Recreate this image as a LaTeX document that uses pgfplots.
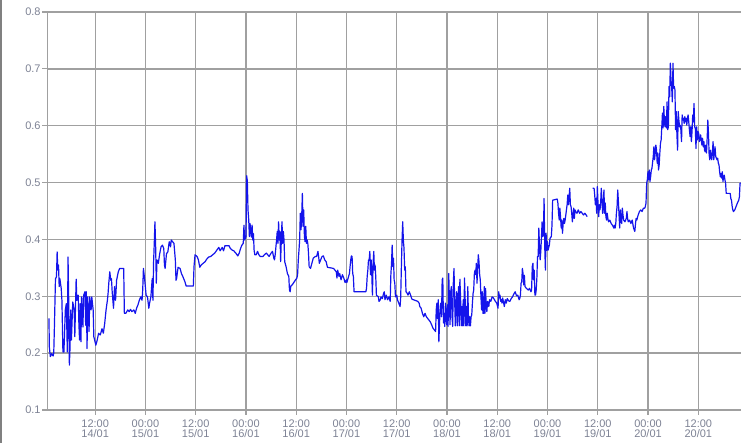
\documentclass[border=0pt]{standalone}
\usepackage{pgfplots}
\pgfplotsset{compat=1.18}
\usepackage{pgfplotstable}
\usepackage{fontspec}
\setmainfont{Liberation Sans}

\definecolor{gridgray}{RGB}{160,160,160}
\definecolor{ticktext}{RGB}{125,130,148}
\definecolor{lineblue}{RGB}{20,20,235}

% hours since 00:00 14/01, reading
\pgfplotstableread{
h v
0.97 0.261
1.05 0.211
1.30 0.194
1.62 0.199
1.95 0.195
2.11 0.200
2.27 0.247
2.52 0.331
2.76 0.334
2.92 0.378
3.08 0.346
3.25 0.355
3.41 0.317
3.57 0.331
3.89 0.314
4.06 0.293
4.30 0.202
4.54 0.202
4.87 0.276
5.11 0.287
5.35 0.202
5.52 0.369
5.68 0.293
5.84 0.179
6.00 0.211
6.16 0.276
6.33 0.223
6.65 0.290
6.98 0.276
7.14 0.229
7.46 0.330
7.62 0.293
7.95 0.302
8.11 0.252
8.27 0.223
8.43 0.287
8.60 0.220
8.76 0.299
9.08 0.246
9.25 0.302
9.57 0.308
9.73 0.249
9.89 0.308
10.06 0.208
10.22 0.299
10.54 0.238
10.70 0.299
11.03 0.276
11.19 0.299
11.52 0.276
11.68 0.229
12.16 0.214
12.49 0.223
12.81 0.235
13.22 0.232
13.63 0.243
13.95 0.235
14.27 0.252
14.60 0.276
14.92 0.293
15.08 0.305
15.25 0.323
15.49 0.343
15.73 0.328
15.89 0.331
16.06 0.308
16.38 0.279
16.62 0.317
16.87 0.293
17.11 0.328
17.52 0.343
17.84 0.349
18.81 0.349
18.97 0.270
19.30 0.270
19.79 0.276
20.11 0.273
20.43 0.277
20.76 0.273
21.25 0.276
21.57 0.270
21.89 0.279
22.22 0.285
22.54 0.293
22.87 0.299
23.19 0.293
23.35 0.311
23.52 0.349
23.84 0.328
24.16 0.302
24.49 0.299
24.81 0.279
24.97 0.287
25.30 0.299
25.62 0.331
25.79 0.293
25.95 0.361
26.11 0.393
26.27 0.431
26.44 0.387
26.60 0.323
26.76 0.364
27.08 0.358
27.41 0.375
27.73 0.387
28.06 0.390
28.38 0.384
28.54 0.355
28.70 0.349
29.03 0.375
29.35 0.378
29.68 0.396
30.00 0.387
30.16 0.399
30.49 0.396
30.81 0.393
31.14 0.364
31.30 0.328
31.46 0.332
31.79 0.351
32.27 0.349
32.60 0.340
32.92 0.335
33.41 0.326
33.73 0.318
35.44 0.318
35.60 0.352
35.84 0.373
36.33 0.370
36.65 0.364
36.98 0.351
37.30 0.355
37.79 0.358
38.28 0.361
38.60 0.365
39.09 0.369
39.57 0.370
40.06 0.373
40.55 0.376
41.03 0.381
41.52 0.386
41.84 0.380
42.33 0.386
42.65 0.380
42.98 0.389
43.95 0.389
44.28 0.384
44.76 0.381
45.09 0.380
45.57 0.376
46.06 0.371
46.39 0.376
46.71 0.384
47.03 0.390
47.36 0.393
47.52 0.425
47.68 0.399
48.01 0.405
48.17 0.512
48.33 0.503
48.49 0.452
48.66 0.435
48.82 0.405
48.98 0.428
49.14 0.415
49.31 0.404
49.47 0.425
49.63 0.399
49.79 0.410
49.95 0.381
50.12 0.373
50.44 0.373
50.77 0.379
51.09 0.373
51.41 0.370
52.06 0.370
52.39 0.373
52.87 0.376
53.52 0.370
54.01 0.376
54.33 0.379
54.66 0.367
54.82 0.364
54.98 0.373
55.31 0.399
55.47 0.414
55.63 0.393
55.79 0.431
55.96 0.399
56.12 0.414
56.28 0.361
56.44 0.399
56.60 0.431
56.77 0.393
56.93 0.414
57.09 0.399
57.25 0.361
57.58 0.352
57.90 0.340
58.23 0.335
58.39 0.311
58.55 0.308
58.71 0.318
59.04 0.320
59.85 0.329
60.17 0.332
60.33 0.338
60.50 0.364
60.66 0.381
60.82 0.399
60.98 0.446
61.15 0.417
61.31 0.440
61.47 0.481
61.63 0.423
61.79 0.452
61.96 0.405
62.12 0.396
62.28 0.423
62.44 0.393
62.61 0.399
62.77 0.393
62.93 0.376
63.09 0.352
63.42 0.349
63.74 0.358
64.07 0.367
64.55 0.370
64.87 0.370
65.19 0.379
65.35 0.370
65.52 0.358
65.84 0.364
66.17 0.370
66.49 0.371
66.81 0.364
67.14 0.361
67.46 0.351
68.92 0.349
69.25 0.346
69.57 0.343
69.73 0.332
69.90 0.346
70.22 0.335
70.38 0.340
70.71 0.329
71.03 0.338
71.36 0.332
71.68 0.324
72.00 0.329
72.08 0.324
72.39 0.332
72.71 0.340
72.86 0.352
73.02 0.364
73.18 0.371
73.34 0.370
73.49 0.340
73.65 0.335
73.81 0.308
76.63 0.308
76.79 0.314
76.95 0.335
77.10 0.346
77.26 0.364
77.42 0.364
77.58 0.379
77.73 0.338
77.89 0.364
78.05 0.338
78.20 0.302
78.36 0.358
78.52 0.379
78.67 0.346
78.83 0.355
78.99 0.335
79.15 0.302
79.62 0.299
79.77 0.291
80.09 0.294
80.24 0.299
80.56 0.296
80.87 0.305
81.03 0.308
81.19 0.294
81.50 0.302
81.81 0.294
82.13 0.299
82.44 0.291
82.60 0.338
82.76 0.358
82.91 0.390
83.07 0.352
83.23 0.367
83.38 0.329
83.54 0.323
83.70 0.299
84.01 0.302
84.17 0.294
84.48 0.288
84.80 0.282
84.95 0.299
85.11 0.352
85.27 0.399
85.43 0.431
85.58 0.399
85.74 0.384
85.90 0.346
86.05 0.352
86.21 0.308
86.53 0.305
86.68 0.302
87.00 0.308
87.31 0.302
87.62 0.295
89.04 0.291
89.35 0.288
89.51 0.282
89.82 0.279
90.14 0.270
90.45 0.264
90.76 0.270
91.08 0.264
91.39 0.261
91.71 0.258
92.02 0.255
92.33 0.250
92.65 0.244
92.96 0.241
93.28 0.238
93.43 0.276
93.59 0.288
93.75 0.261
93.90 0.294
94.06 0.220
94.22 0.253
94.38 0.282
94.53 0.288
94.69 0.264
94.85 0.329
95.00 0.332
95.16 0.253
95.32 0.270
95.47 0.247
95.63 0.288
95.79 0.258
95.94 0.250
96.10 0.285
96.26 0.247
96.42 0.340
96.57 0.294
96.73 0.250
96.89 0.308
97.04 0.317
97.20 0.264
97.36 0.247
97.51 0.323
97.67 0.349
97.83 0.294
97.99 0.248
98.14 0.288
98.30 0.308
98.46 0.248
98.61 0.288
98.77 0.317
98.93 0.248
99.08 0.330
99.24 0.299
99.40 0.248
99.56 0.282
99.71 0.248
99.87 0.294
100.03 0.248
100.18 0.332
100.34 0.294
100.50 0.248
100.66 0.282
100.81 0.248
100.97 0.317
101.13 0.261
101.28 0.248
101.44 0.264
101.60 0.248
101.75 0.264
101.91 0.267
102.07 0.288
102.23 0.305
102.38 0.311
102.54 0.340
102.70 0.346
102.85 0.338
103.01 0.358
103.17 0.323
103.32 0.349
103.48 0.373
103.64 0.361
103.80 0.338
103.95 0.329
104.11 0.299
104.27 0.276
104.42 0.308
104.58 0.270
104.74 0.270
104.90 0.317
105.05 0.270
105.21 0.314
105.37 0.282
105.52 0.273
105.68 0.291
105.99 0.282
106.15 0.294
106.46 0.291
106.78 0.299
107.09 0.297
107.56 0.291
107.88 0.288
108.19 0.279
108.35 0.308
108.51 0.297
108.66 0.302
108.82 0.291
108.98 0.294
109.13 0.288
109.29 0.297
109.45 0.291
109.69 0.282
109.92 0.294
110.16 0.288
110.39 0.296
110.71 0.292
111.02 0.291
111.33 0.296
111.65 0.299
111.96 0.304
112.28 0.308
112.59 0.301
112.90 0.302
113.22 0.294
113.38 0.296
113.53 0.302
113.69 0.323
113.85 0.326
114.00 0.349
114.16 0.340
114.32 0.320
114.47 0.337
114.63 0.317
114.95 0.314
115.42 0.311
115.73 0.314
116.05 0.308
116.20 0.311
116.36 0.352
116.52 0.358
116.67 0.329
116.83 0.346
116.99 0.302
117.14 0.302
117.30 0.311
117.46 0.332
117.61 0.370
117.77 0.370
117.93 0.420
118.09 0.387
118.24 0.364
118.40 0.379
118.56 0.405
118.71 0.431
118.87 0.405
119.03 0.411
119.18 0.472
119.34 0.387
119.50 0.346
119.66 0.411
119.81 0.381
119.97 0.396
120.13 0.381
120.44 0.390
120.60 0.402
120.91 0.405
121.07 0.425
121.23 0.469
122.32 0.471
122.48 0.464
122.64 0.446
122.80 0.434
122.95 0.455
123.11 0.440
123.27 0.420
123.42 0.434
123.58 0.411
123.74 0.428
123.89 0.437
124.05 0.428
124.21 0.434
124.37 0.443
124.52 0.452
124.68 0.461
124.84 0.478
124.99 0.461
125.15 0.475
125.31 0.490
125.46 0.461
125.62 0.458
125.78 0.446
125.94 0.431
126.09 0.443
126.25 0.455
126.41 0.437
126.56 0.452
126.72 0.449
127.03 0.446
127.35 0.452
127.66 0.446
127.98 0.449
128.29 0.446
128.60 0.443
128.92 0.446
129.23 0.443
129.47 0.440
130.10 nan
130.80 0.490
131.12 0.490
131.27 0.478
131.43 0.461
131.59 0.472
131.74 0.446
131.90 0.493
132.06 0.464
132.22 0.440
132.37 0.461
132.53 0.452
132.69 0.464
132.84 0.490
133.00 0.469
133.16 0.446
133.31 0.458
133.47 0.487
133.63 0.446
133.79 0.464
133.94 0.440
134.10 0.434
134.26 0.446
134.41 0.437
134.57 0.431
134.88 0.434
135.20 0.428
135.51 0.425
135.83 0.420
135.98 0.425
136.14 0.420
136.30 0.428
136.45 0.446
136.61 0.458
136.77 0.487
136.93 0.466
137.08 0.443
137.24 0.420
137.40 0.452
137.55 0.437
137.71 0.428
137.87 0.455
138.02 0.443
138.18 0.434
138.49 0.431
138.81 0.437
138.97 0.449
139.12 0.437
139.28 0.431
139.59 0.434
139.91 0.428
140.22 0.434
140.54 0.420
140.85 0.414
141.01 0.428
141.16 0.437
141.32 0.434
141.64 0.443
141.95 0.449
142.26 0.452
142.58 0.449
142.89 0.455
143.21 0.455
143.36 0.458
143.52 0.464
143.68 0.499
143.84 0.505
143.99 0.519
144.15 0.505
144.30 0.522
144.46 0.502
144.62 0.510
144.78 0.522
144.93 0.525
145.25 0.546
145.40 0.563
145.56 0.540
145.72 0.552
145.87 0.566
146.03 0.557
146.19 0.534
146.35 0.552
146.50 0.522
146.66 0.531
146.82 0.552
146.97 0.569
147.13 0.575
147.29 0.598
147.44 0.622
147.60 0.596
147.76 0.634
147.92 0.607
148.07 0.598
148.23 0.616
148.39 0.596
148.54 0.642
148.70 0.593
148.86 0.598
149.01 0.669
149.17 0.651
149.33 0.710
149.49 0.680
149.64 0.669
149.80 0.642
149.96 0.710
150.11 0.666
150.27 0.669
150.43 0.663
150.58 0.593
150.74 0.625
150.90 0.584
151.06 0.557
151.21 0.625
151.37 0.610
151.53 0.598
151.68 0.601
151.84 0.593
152.00 0.572
152.15 0.619
152.31 0.610
152.47 0.613
152.63 0.604
152.78 0.616
152.94 0.607
153.10 0.613
153.25 0.601
153.41 0.613
153.57 0.619
153.72 0.607
153.88 0.593
154.04 0.581
154.20 0.598
154.35 0.572
154.51 0.590
154.67 0.619
154.82 0.607
154.98 0.639
155.14 0.598
155.29 0.596
155.45 0.560
155.61 0.598
155.77 0.575
155.92 0.590
156.08 0.587
156.24 0.572
156.39 0.575
156.55 0.584
156.71 0.575
156.86 0.566
157.02 0.578
157.18 0.563
157.34 0.572
157.49 0.557
157.65 0.554
157.81 0.566
157.96 0.552
158.12 0.578
158.28 0.610
158.43 0.587
158.59 0.549
158.75 0.540
158.91 0.557
159.06 0.546
159.22 0.540
159.38 0.554
159.53 0.572
159.69 0.540
159.85 0.552
160.00 0.563
160.16 0.546
160.32 0.543
160.48 0.540
160.63 0.543
160.79 0.534
160.95 0.531
161.10 0.519
161.26 0.510
161.42 0.516
161.57 0.508
161.73 0.519
161.89 0.502
162.05 0.510
162.20 0.513
162.36 0.505
162.52 0.499
162.67 0.481
163.62 0.481
163.77 0.472
163.93 0.469
164.09 0.458
164.24 0.452
164.40 0.449
164.71 0.452
165.03 0.458
165.34 0.464
165.66 0.469
165.82 0.475
165.97 0.499
166.21 0.499
}\loaddata

\begin{document}
\begin{tikzpicture}
\useasboundingbox (-47.3pt,-33pt) rectangle (693.7pt,410pt);
\begin{axis}[
    at={(0pt,0pt)}, anchor=south west,
    scale only axis,
    width=693.7pt, height=398pt,
    xmin=0.57, xmax=166.2,
    ymin=0.1, ymax=0.8,
    axis lines=left,
    axis line style={draw=gridgray, line width=1.3pt, -},
    xtick={12,24,36,48,60,72,84,96,108,120,132,144,156},
    xticklabels={{12:00\\14/01},{00:00\\15/01},{12:00\\15/01},{00:00\\16/01},
        {12:00\\16/01},{00:00\\17/01},{12:00\\17/01},{00:00\\18/01},
        {12:00\\18/01},{00:00\\19/01},{12:00\\19/01},{00:00\\20/01},{12:00\\20/01}},
    ytick={0.1,0.2,0.3,0.4,0.5,0.6,0.7,0.8},
    /pgf/number format/assume math mode=true,
    ticklabel style={font=\fontsize{11pt}{10pt}\selectfont, text=ticktext},
    xticklabel style={align=center, inner sep=0.5pt, yshift=-4.5pt},
    yticklabel style={inner sep=1.5pt, /pgf/number format/.cd, fixed, fixed zerofill, precision=1},
    grid=major,
    major grid style={draw=gridgray, line width=1.3pt},
    tick style={draw=gridgray, line width=1.2pt},
    major tick length=5pt,
    tick align=outside,
    unbounded coords=jump,
]
\addplot[lineblue, line width=1.2pt, line join=round] table[x=h, y=v]{\loaddata};
\end{axis}
\draw[draw=gray, line width=1.5pt] (-46.5pt,-33pt) -- (-46.5pt,410pt);
\end{tikzpicture}
\end{document}
